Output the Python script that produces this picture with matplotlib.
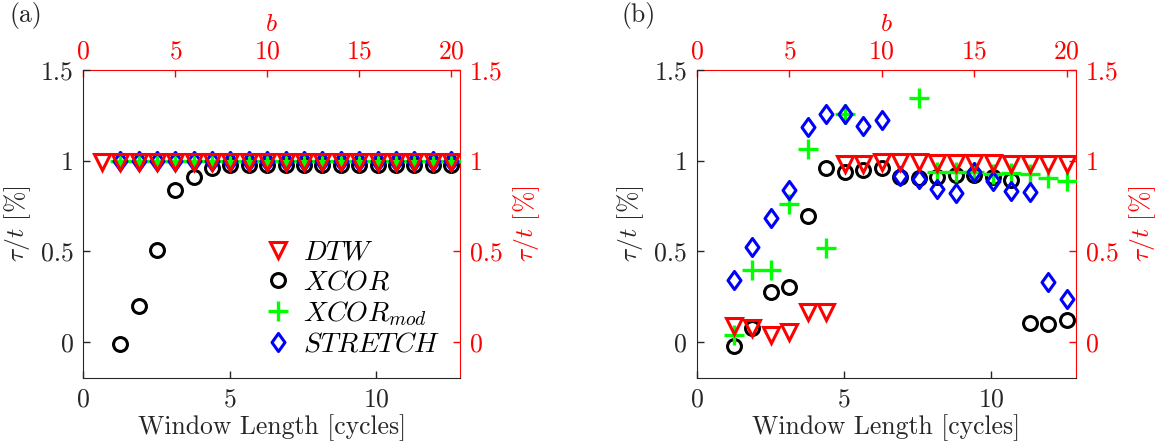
import numpy as np
import matplotlib
matplotlib.use('Agg')
import matplotlib.pyplot as plt
from matplotlib.path import Path

plt.rcParams['font.family'] = 'cmr10'
plt.rcParams['mathtext.fontset'] = 'cm'
plt.rcParams['axes.formatter.use_mathtext'] = True

# window length in cycles for one step of b
cycles_per_b = 2 * np.pi / 10

# ---- panel (a) ----
b_a_dtw = list(range(1, 21))
b_a = list(range(2, 21))
a_dtw = [0.99, 0.99, 0.99, 0.99, 0.99, 0.99, 0.99, 0.99, 0.99, 0.99,
         0.99, 0.99, 0.99, 0.99, 0.99, 0.99, 0.99, 0.99, 0.99, 0.99]
a_xcor = [-0.01, 0.20, 0.51, 0.84, 0.91, 0.96, 0.975, 0.975, 0.975, 0.975,
          0.975, 0.975, 0.975, 0.975, 0.975, 0.975, 0.975, 0.975, 0.975]
a_xmod = [1.0, 1.0, 1.0, 1.0, 1.0, 1.0, 1.0, 1.0, 1.0, 1.0,
          1.0, 1.0, 1.0, 1.0, 1.0, 1.0, 1.0, 1.0, 1.0]
a_stretch = [1.0, 1.0, 1.0, 1.0, 1.0, 1.0, 1.0, 1.0, 1.0, 1.0,
             1.0, 1.0, 1.0, 1.0, 1.0, 1.0, 1.0, 1.0, 1.0]

# ---- panel (b) ----
b_b = list(range(2, 21))
b_dtw = [0.09, 0.08, 0.04, 0.055, 0.165, 0.165, 0.98, 0.98, 0.99, 0.995,
         0.99, 0.985, 0.985, 0.985, 0.985, 0.98, 0.98, 0.98, 0.98]
b_xcor = [-0.02, 0.075, 0.275, 0.305, 0.695, 0.96, 0.94, 0.95, 0.96, 0.91,
          0.905, 0.91, 0.92, 0.92, 0.91, 0.895, 0.105, 0.10, 0.12]
b_xmod = [0.04, 0.395, 0.395, 0.76, 1.065, 0.52, 1.26, np.nan, np.nan, np.nan,
          1.345, 0.94, 0.94, 0.935, 0.925, 0.93, 0.925, 0.905, 0.89]
b_stretch = [0.34, 0.525, 0.685, 0.84, 1.185, 1.26, 1.255, 1.19, 1.225, 0.915,
             0.90, 0.845, 0.82, 0.935, 0.89, 0.835, 0.825, 0.33, 0.235]

x_ticks = [0, 5, 10]
b_ticks = [0, 5, 10, 15, 20]
y_ticks = [0, 0.5, 1, 1.5]

txt = '#262626'
red = '#ff0000'
green = '#00ff00'
blue = '#0000ff'
fs = 18.5

diamond = Path([(0, 1), (0.72, 0), (0, -1), (-0.72, 0), (0, 1)],
               [Path.MOVETO, Path.LINETO, Path.LINETO, Path.LINETO, Path.CLOSEPOLY])

fig = plt.figure(figsize=(11.56, 4.47), dpi=100)
ax_a = fig.add_axes([0.0721, 0.1537, 0.3261, 0.6897])
ax_b = fig.add_axes([0.6029, 0.1537, 0.3279, 0.6897])


def draw(ax, bd, dtw, bo, xcor, xmod, stretch):
    xd = np.array(bd) * cycles_per_b
    xo = np.array(bo) * cycles_per_b
    h_x, = ax.plot(xo, xcor, 'o', ls='none', mfc='none', mec='black', ms=10, mew=2.2, zorder=2)
    h_m, = ax.plot(xo, xmod, '+', ls='none', color=green, ms=14, mew=2.4, zorder=3)
    h_s, = ax.plot(xo, stretch, marker=diamond, ls='none', mfc='none', mec=blue, ms=13, mew=2.2, zorder=4)
    h_d, = ax.plot(xd, dtw, 'v', ls='none', mfc='none', mec=red, ms=12, mew=2.2, zorder=5)

    ax.set_xlim(0, 20.5 * cycles_per_b)
    ax.set_ylim(-0.2, 1.5)
    ax.set_xticks(x_ticks)
    ax.set_yticks(y_ticks)
    ax.set_yticklabels(['0', '0.5', '1', '1.5'])
    ax.tick_params(direction='in', length=5, width=1, colors=txt, labelsize=fs, pad=7)
    for s in ['left', 'bottom']:
        ax.spines[s].set_color(txt)
    for s in ['top', 'right']:
        ax.spines[s].set_visible(False)
    ax.set_xlabel('Window Length [cycles]', fontsize=fs, color=txt, labelpad=2)
    ax.set_ylabel(r'$\tau/t$ [%]', fontsize=fs, color=txt, labelpad=6)

    top = ax.secondary_xaxis('top', functions=(lambda x: x / cycles_per_b,
                                               lambda b: b * cycles_per_b))
    top.set_xticks(b_ticks)
    top.tick_params(direction='in', length=5, width=1, colors=red, labelsize=fs, pad=5)
    top.spines['top'].set_color(red)
    top.set_xlabel(r'$b$', fontsize=fs, color=red, labelpad=6)

    right = ax.secondary_yaxis('right')
    right.set_yticks(y_ticks)
    right.set_yticklabels(['0', '0.5', '1', '1.5'])
    right.tick_params(direction='in', length=5, width=1, colors=red, labelsize=fs, pad=7)
    right.spines['right'].set_color(red)
    right.set_ylabel(r'$\tau/t$ [%]', fontsize=fs, color=red, labelpad=6)
    return h_d, h_x, h_m, h_s


handles = draw(ax_a, b_a_dtw, a_dtw, b_a, a_xcor, a_xmod, a_stretch)
draw(ax_b, b_b, b_dtw, b_b, b_xcor, b_xmod, b_stretch)

ax_a.legend(handles, [r'$DTW$', r'$XCOR$', r'$XCOR_{mod}$', r'$STRETCH$'],
            loc='lower right', frameon=False, fontsize=20, labelspacing=0.12,
            handletextpad=0.4, borderaxespad=0.3, handlelength=1.0,
            bbox_to_anchor=(1.0, 0.005))

fig.text(0.008, 0.965, '(a)', fontsize=fs, color=txt, va='center')
fig.text(0.538, 0.965, '(b)', fontsize=fs, color=txt, va='center')

fig.savefig('out.png', dpi=100)
